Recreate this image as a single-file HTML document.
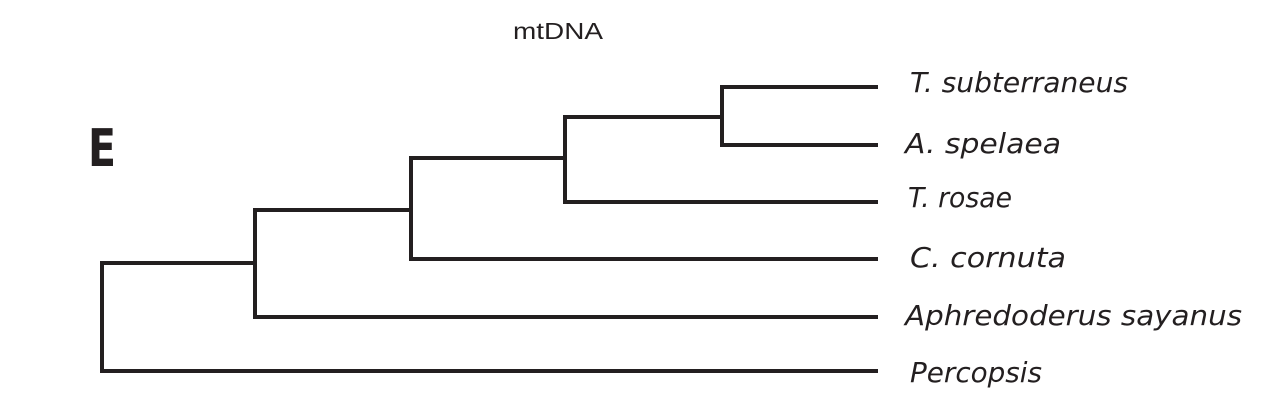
<!DOCTYPE html>
<html><head><meta charset="utf-8"><style>
html,body{margin:0;padding:0;background:#fff;width:1280px;height:420px;overflow:hidden}
</style></head><body>
<svg width="1280" height="420" viewBox="0 0 1280 420" xmlns="http://www.w3.org/2000/svg">
<g fill="none" stroke="#231f20" stroke-width="4" stroke-linecap="square" stroke-linejoin="miter">
<path d="M876,371 H102 V263 H255"/>
<path d="M876,317 H255 V210 H411"/>
<path d="M876,259 H411 V158 H565"/>
<path d="M876,202 H565 V117 H722"/>
<path d="M876,87 H722 V145 H876"/>
</g>
<text x="513" y="39" font-family="Liberation Sans, sans-serif" font-size="23" fill="#231f20" textLength="90" lengthAdjust="spacingAndGlyphs">mtDNA</text>
<text x="88" y="166" font-family="DejaVu Sans, Liberation Sans, sans-serif" font-weight="bold" font-size="52" fill="#231f20" textLength="28" lengthAdjust="spacingAndGlyphs">E</text>
<g font-family="DejaVu Sans, Liberation Sans, sans-serif" font-style="italic" font-size="28" fill="#231f20">
<text x="910" y="92" textLength="218" lengthAdjust="spacingAndGlyphs">T. subterraneus</text>
<text x="905" y="153" textLength="156" lengthAdjust="spacingAndGlyphs">A. spelaea</text>
<text x="908" y="207" textLength="104" lengthAdjust="spacingAndGlyphs">T. rosae</text>
<text x="910" y="267" textLength="156" lengthAdjust="spacingAndGlyphs">C. cornuta</text>
<text x="905" y="325" textLength="337" lengthAdjust="spacingAndGlyphs">Aphredoderus sayanus</text>
<text x="910" y="382" textLength="132" lengthAdjust="spacingAndGlyphs">Percopsis</text>
</g>
</svg>
</body></html>
